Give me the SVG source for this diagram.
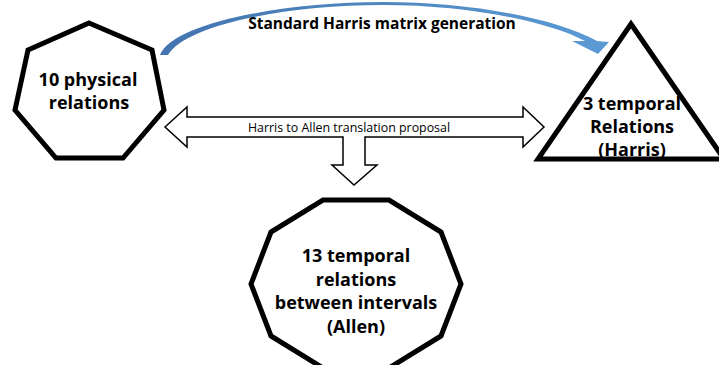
<svg xmlns="http://www.w3.org/2000/svg" width="719" height="365" viewBox="0 0 719 365">
<defs>
<linearGradient id="blueGrad" x1="160" y1="0" x2="610" y2="0" gradientUnits="userSpaceOnUse">
<stop offset="0" stop-color="#4374b0"/>
<stop offset="1" stop-color="#5b9bd5"/>
</linearGradient>
<style>
.shape{fill:#ffffff;stroke:#000000;stroke-width:5;stroke-linejoin:miter}
.big{font-family:"Open Sans","Liberation Sans",sans-serif;font-weight:bold;font-size:18px;fill:#000;text-anchor:middle}
.title{font-family:"Open Sans","Liberation Sans",sans-serif;font-weight:bold;font-size:15.5px;fill:#000;text-anchor:middle}
.small{font-family:"Open Sans","Liberation Sans",sans-serif;font-size:12.4px;fill:#000;text-anchor:middle}
.block{fill:#ffffff;stroke:#000000;stroke-width:1.5;stroke-linejoin:miter}
</style>
</defs>
<rect width="719" height="365" fill="#ffffff"/>
<g id="node-physical">
<polygon class="shape" points="89,23 152,50 164,110 123,158 56,158 15,110 28,50"/>
<text class="big" x="88" y="86">10 physical</text>
<text class="big" x="89" y="109">relations</text>
</g>
<g id="node-harris">
<polygon class="shape" points="631,24 724,159 538,159"/>
<text class="big" x="632" y="110">3 temporal</text>
<text class="big" x="632" y="133">Relations</text>
<text class="big" x="632" y="156">(Harris)</text>
</g>
<g id="node-allen">
<polygon class="shape" points="323,200 389,200 441,232 461,284 441,336 389,368 323,368 271,336 251,284 271,232"/>
<text class="big" x="356" y="262">13 temporal</text>
<text class="big" x="356" y="285.5">relations</text>
<text class="big" x="356" y="309">between intervals</text>
<text class="big" x="356" y="332.5">(Allen)</text>
</g>
<g id="connectors">
<path fill="url(#blueGrad)" d="M160,55 C172,24 280,2 383,2 C470,2 555,18 597,41 L609,42 L598,54 L572,41 L585,41 C550,22 470,5 383,5 C285,5 186,25 168,55 Z"/>
<text class="title" x="382" y="29">Standard Harris matrix generation</text>
<polygon class="block" points="165,127 187,107 187,117 523,117 523,107 544,127 523,147 523,137 365,137 365,165 377,165 354,185 332,165 343,165 343,137 187,137 187,147"/>
<text class="small" x="349" y="131.5">Harris to Allen translation proposal</text>
</g>
</svg>
